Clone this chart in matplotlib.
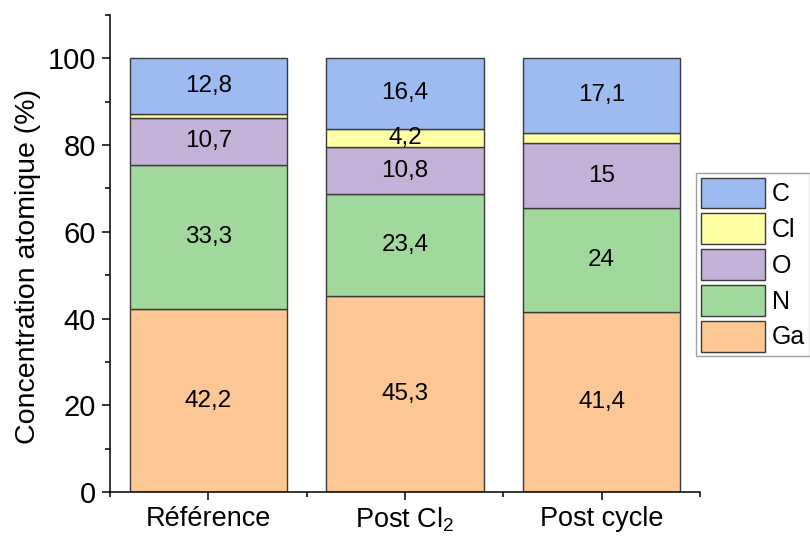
import matplotlib
matplotlib.use("Agg")
import matplotlib.pyplot as plt
from matplotlib.ticker import FixedLocator
import numpy as np

plt.rcParams['font.family'] = ['Liberation Sans', 'DejaVu Sans']
plt.rcParams['mathtext.fontset'] = 'custom'
plt.rcParams['mathtext.rm'] = 'Liberation Sans'
plt.rcParams['mathtext.it'] = 'Liberation Sans:italic'

categories = ['Référence', r'Post Cl$_2$', 'Post cycle']
elements = ['Ga', 'N', 'O', 'Cl', 'C']
ga = [42.2, 45.3, 41.4]
n = [33.3, 23.4, 24.0]
o = [10.7, 10.8, 15.0]
cl = [1.0, 4.2, 2.5]
c = [12.8, 16.4, 17.1]
series = [ga, n, o, cl, c]
labels_ga = ['42,2', '45,3', '41,4']
labels_n = ['33,3', '23,4', '24']
labels_o = ['10,7', '10,8', '15']
labels_cl = ['', '4,2', '']
labels_c = ['12,8', '16,4', '17,1']
series_labels = [labels_ga, labels_n, labels_o, labels_cl, labels_c]
colors = ['#FCC794', '#A1D89B', '#C3B1D7', '#FFFFA3', '#9DBBF1']

fig = plt.figure(figsize=(8.1, 5.37), dpi=100)
ax = fig.add_axes([110/810, 1-492/537, 590/810, (492-15)/537])

x = np.arange(len(categories))
bottom = np.zeros(len(categories))
handles = []
for vals, labs, col, name in zip(series, series_labels, colors, elements):
    vals = np.array(vals)
    b = ax.bar(x, vals, 0.8, bottom=bottom, color=col, edgecolor='#3a3a3a',
               linewidth=1.0, label=name)
    handles.append(b)
    for xi, v, bt, lab in zip(x, vals, bottom, labs):
        if lab:
            ax.text(xi, bt + v/2, lab, ha='center', va='center', fontsize=17.5, color='black')
    bottom += vals

ax.set_xlim(-0.5, 2.5)
ax.set_ylim(0, 110)
ax.spines['top'].set_visible(False)
ax.spines['right'].set_visible(False)
ax.set_xticks(x)
ax.set_xticklabels(categories, fontsize=19.5)
ax.xaxis.set_minor_locator(FixedLocator([-0.5, 0.5, 1.5, 2.5]))
ax.yaxis.set_major_locator(FixedLocator([0, 20, 40, 60, 80, 100]))
ax.yaxis.set_minor_locator(FixedLocator([10, 30, 50, 70, 90, 110]))
ax.tick_params(axis='both', which='major', direction='out', length=6, width=1.1, pad=4)
ax.tick_params(axis='y', which='major', labelsize=21)
ax.tick_params(axis='x', which='major', labelsize=19.5)
ax.tick_params(axis='both', which='minor', direction='out', length=3.5, width=1.1)
ax.spines['left'].set_linewidth(1.1)
ax.spines['bottom'].set_linewidth(1.1)
ax.set_ylabel('Concentration atomique (%)', fontsize=20.5, va='center')
ax.yaxis.set_label_coords((28-110)/590, (492-266)/477)

leg = fig.legend(handles[::-1], elements[::-1], loc='upper left',
                 bbox_to_anchor=(696/810, 1-173/537), fontsize=18,
                 frameon=True, fancybox=False, edgecolor='#888888',
                 handlelength=2.56, handleheight=1.52, labelspacing=0.2,
                 handletextpad=0.3, borderpad=0.18, borderaxespad=0)
leg.get_frame().set_linewidth(1.0)

fig.savefig('out.png', dpi=100)
